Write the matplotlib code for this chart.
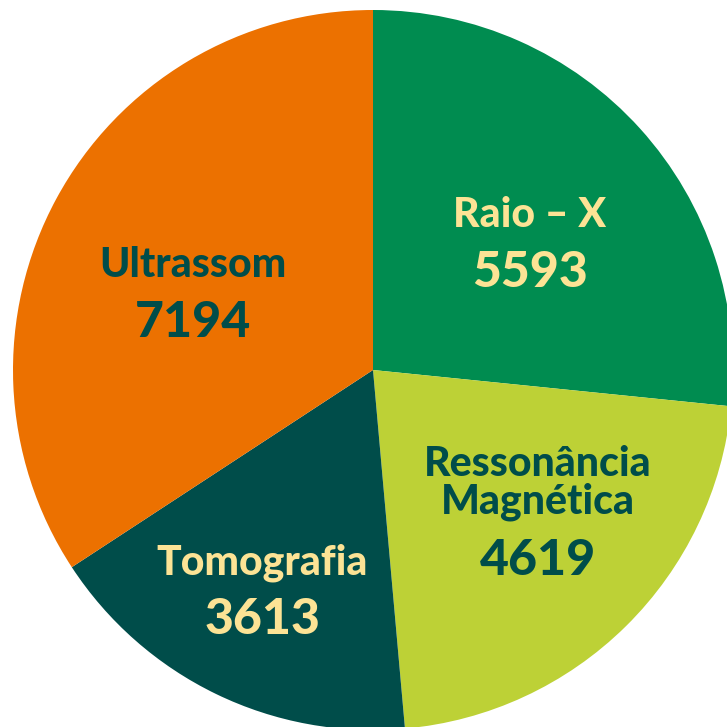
import matplotlib.pyplot as plt

labels = ['Raio – X', 'Ressonância\nMagnética', 'Tomografia', 'Ultrassom']
values = [5593, 4619, 3613, 7194]
colors = ['#008C50', '#BDD136', '#004D4A', '#EC7100']
text_colors = ['#FCE395', '#004D4A', '#FCE395', '#004D4A']
# label centres in pie units: (x, name y, value y)
label_pos = [(0.436, 0.430, 0.272), (0.458, -0.314, -0.528),
             (-0.308, -0.536, -0.694), (-0.500, 0.292, 0.133)]

fig = plt.figure(figsize=(7.27, 7.27), dpi=100)
ax = fig.add_axes([0, 0, 1, 1])
ax.pie(values, colors=colors, startangle=90, counterclock=False, radius=1,
       wedgeprops=dict(linewidth=0))
ax.set_xlim(-373 / 360, 354 / 360)
ax.set_ylim(-357 / 360, 370 / 360)
ax.set_aspect('equal')
ax.axis('off')

for lab, val, tc, (x, y1, y2) in zip(labels, values, text_colors, label_pos):
    ax.text(x, y1, lab, ha='center', va='center', color=tc, family='Lato',
            fontweight='black', fontsize=29.5, linespacing=0.98)
    ax.text(x, y2, str(val), ha='center', va='center', color=tc, family='Lato',
            fontweight='black', fontsize=36)

fig.savefig('out.png', dpi=100)
